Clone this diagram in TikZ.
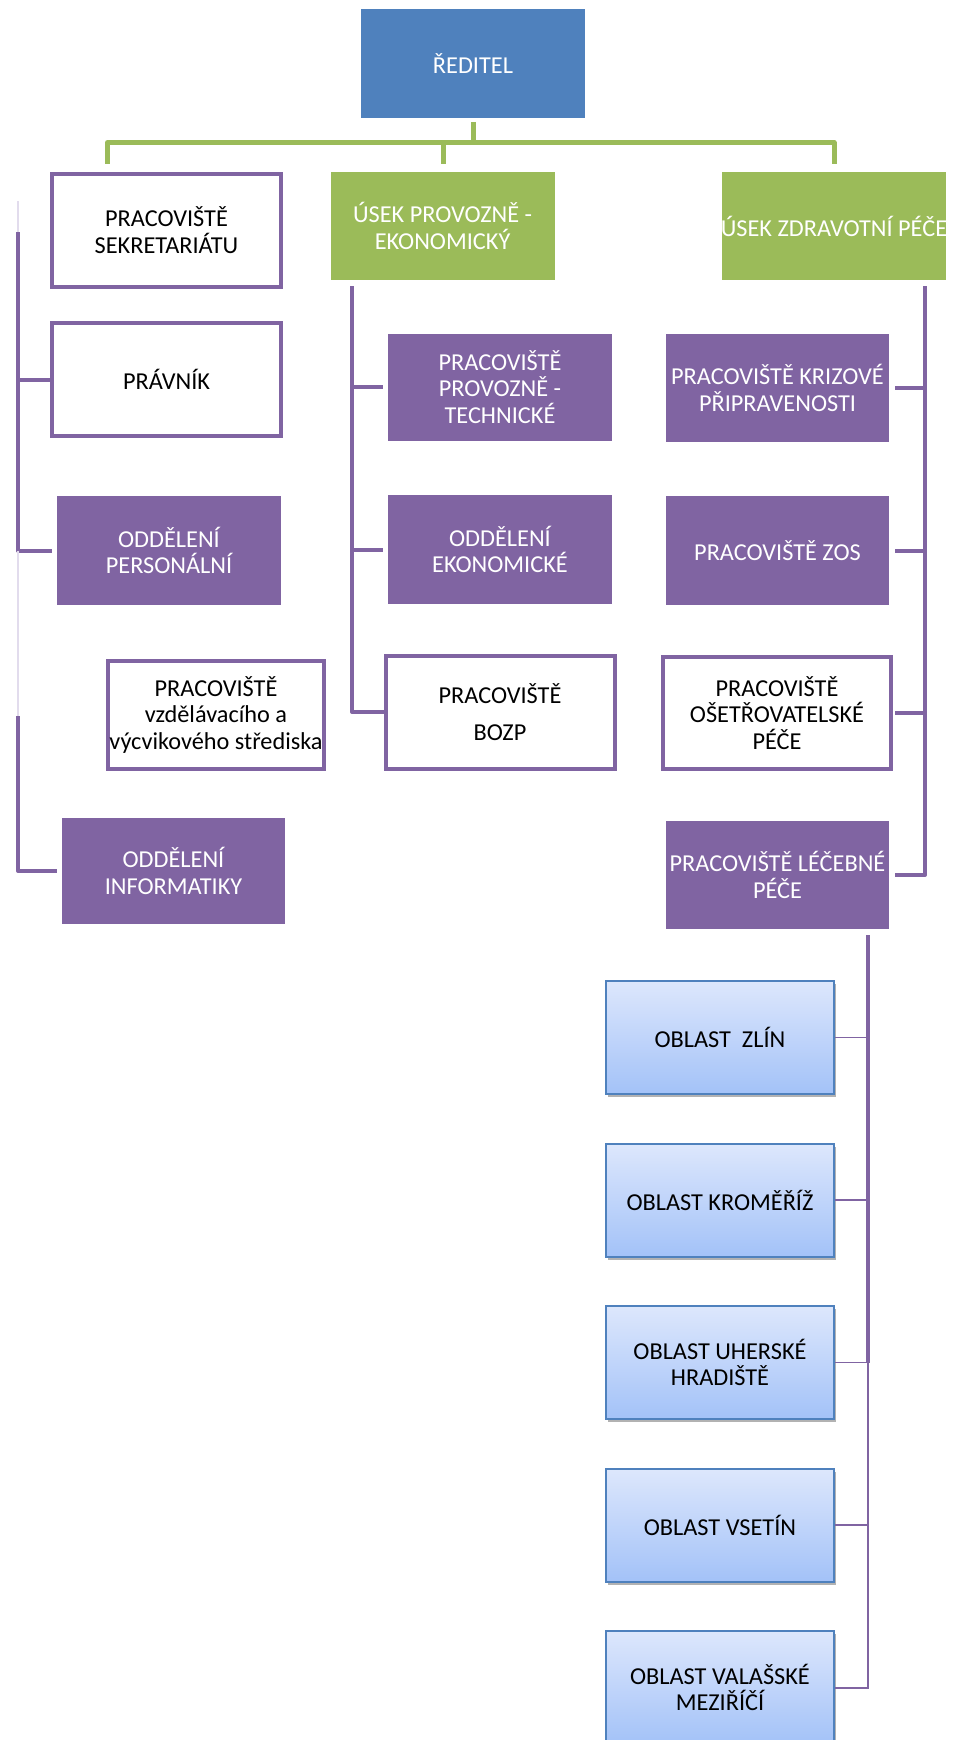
\documentclass[tikz,border=0pt]{standalone}
\usepackage{fontspec}
\setmainfont{Carlito}
\usetikzlibrary{calc,shadows}
\definecolor{pur}{RGB}{128,100,162}
\definecolor{grn}{RGB}{155,187,89}
\definecolor{blu}{RGB}{79,129,189}
\definecolor{lighttop}{RGB}{221,231,252}
\definecolor{lightbot}{RGB}{163,194,248}
\definecolor{faintp}{RGB}{226,220,237}
\begin{document}
\begin{tikzpicture}[x=1pt,y=-1pt,
  base/.style={inner sep=0pt, align=center, font=\fontsize{24.3}{26.5}\selectfont},
  wh/.style 2 args={minimum width=#1pt, minimum height=#2pt},
  topbox/.style={base, fill=blu, text=white},
  greenbox/.style={base, fill=grn, text=white},
  purbox/.style={base, fill=pur, text=white},
  whitebox/.style={base, draw=pur, line width=4pt, fill=white, text=black},
  bluebox/.style={base, draw=blu, line width=2pt, top color=lighttop, bottom color=lightbot, text=black,
    drop shadow={shadow xshift=1.5pt, shadow yshift=-3pt, opacity=0.3, fill=black}},
  gline/.style={draw=grn, line width=5pt, line join=round},
  pline/.style={draw=pur, line width=4pt, line join=round},
  fline/.style={draw=faintp, line width=1.2pt},
  bline/.style={draw=pur, line width=2pt},
  bstub/.style={draw=pur, line width=1.6pt}
]
\useasboundingbox (0,0) rectangle (953,1740);
\clip (0,0) rectangle (953,1740);

% top
\node[topbox, wh={224}{108.5}] (red) at (473,63.5) {ŘEDITEL};

% row 1
\node[whitebox, wh={229}{113}] (sek) at (166.5,230) {PRACOVIŠTĚ\\SEKRETARIÁTU};
\node[greenbox, wh={224}{108}] (provoz) at (442.6,226) {ÚSEK PROVOZNĚ -\\EKONOMICKÝ};
\node[greenbox, wh={224}{108}] (zdrav) at (834,226) {\makebox[0pt][c]{ÚSEK ZDRAVOTNÍ PÉČE}};

% left column
\node[whitebox, wh={229}{113}] (pravnik) at (166.5,379.5) {PRÁVNÍK};
\node[purbox, wh={224}{109}] (personal) at (169,550.5) {ODDĚLENÍ\\PERSONÁLNÍ};
\node[whitebox, wh={215.5}{108.5}] (vzdel) at (216,715) {PRACOVIŠTĚ\\vzdělávacího a\\\makebox[0pt][c]{výcvikového střediska}};
\node[purbox, wh={223}{106.5}] (inform) at (173.5,871) {ODDĚLENÍ\\INFORMATIKY};

% middle column
\node[purbox, wh={224}{107}] (provtech) at (500,387) {PRACOVIŠTĚ\\PROVOZNĚ -\\TECHNICKÉ};
\node[purbox, wh={224}{109}] (ekonom) at (500,549.5) {ODDĚLENÍ\\EKONOMICKÉ};
\node[whitebox, wh={229}{113}] (bozp) at (500,712) {PRACOVIŠTĚ\\[11pt]BOZP};

% right column
\node[purbox, wh={223}{108}] (krizove) at (777.5,388) {PRACOVIŠTĚ KRIZOVÉ\\PŘIPRAVENOSTI};
\node[purbox, wh={223}{109}] (zos) at (777.5,550.5) {PRACOVIŠTĚ ZOS};
\node[whitebox, wh={228}{112.5}] (osetr) at (777,712.75) {PRACOVIŠTĚ\\OŠETŘOVATELSKÉ\\PÉČE};
\node[purbox, wh={223}{108}] (lecebne) at (777.5,875) {PRACOVIŠTĚ LÉČEBNÉ\\PÉČE};

% regions
\node[bluebox, wh={228}{113}] (b1) at (720,1037.5) {OBLAST\ \ ZLÍN};
\node[bluebox, wh={228}{113}] (b2) at (720,1200) {OBLAST KROMĚŘÍŽ};
\node[bluebox, wh={228}{113}] (b3) at (720,1362.5) {OBLAST UHERSKÉ\\HRADIŠTĚ};
\node[bluebox, wh={228}{113}] (b4) at (720,1525) {OBLAST VSETÍN};
\node[bluebox, wh={228}{113}] (b5) at (720,1687.5) {OBLAST VALAŠSKÉ\\MEZIŘÍČÍ};

% green connectors
\draw[gline] ($(red.south)+(0,4)$) -- ++(0,23);
\draw[gline] ($(sek.north)+(-59,-8)$) -- ++(0,-21) -| ($(zdrav.north)+(0,-8)$);
\draw[gline] ($(provoz.north)+(1,-8)$) -- ++(0,-21);

% left purple connectors
\coordinate (lfaint) at (18,201);
\coordinate (ltop) at (18,232);
\coordinate (lmid) at (18,716);
\draw[fline] (lfaint) -- (ltop);
\draw[pline] (ltop) |- ($(personal.west)+(-5,0)$);
\draw[pline] (pravnik.west) -- (pravnik.west -| ltop);
\draw[fline] (personal.west -| ltop) -- (lmid);
\draw[pline] (lmid) |- ($(inform.west)+(-5,0)$);

% middle purple connectors
\coordinate (mtop) at (352,286);
\draw[pline] (mtop) |- (bozp.west);
\draw[pline] ($(provtech.west)+(-5,0)$) -- (provtech.west -| mtop);
\draw[pline] ($(ekonom.west)+(-5,0)$) -- (ekonom.west -| mtop);

% right purple connectors
\coordinate (rtop) at (925,286);
\draw[pline] (rtop) |- ($(lecebne.east)+(6,0)$);
\draw[pline] ($(krizove.east)+(6,0)$) -- (krizove.east -| rtop);
\draw[pline] ($(zos.east)+(6,0)$) -- (zos.east -| rtop);
\draw[pline] ($(osetr.east)+(2,0)$) -- (osetr.east -| rtop);

% region connectors
\coordinate (btop) at (868,935);
\draw[bline] (btop) |- (b5.east);
\draw[draw=pur, line width=3.2pt] (btop) -- (b3.east -| btop);
\draw[bstub] (b1.east) -- (b1.east -| btop);
\draw[bstub] (b2.east) -- (b2.east -| btop);
\draw[bstub] (b3.east) -- (b3.east -| btop);
\draw[bstub] (b4.east) -- (b4.east -| btop);
\end{tikzpicture}
\end{document}
